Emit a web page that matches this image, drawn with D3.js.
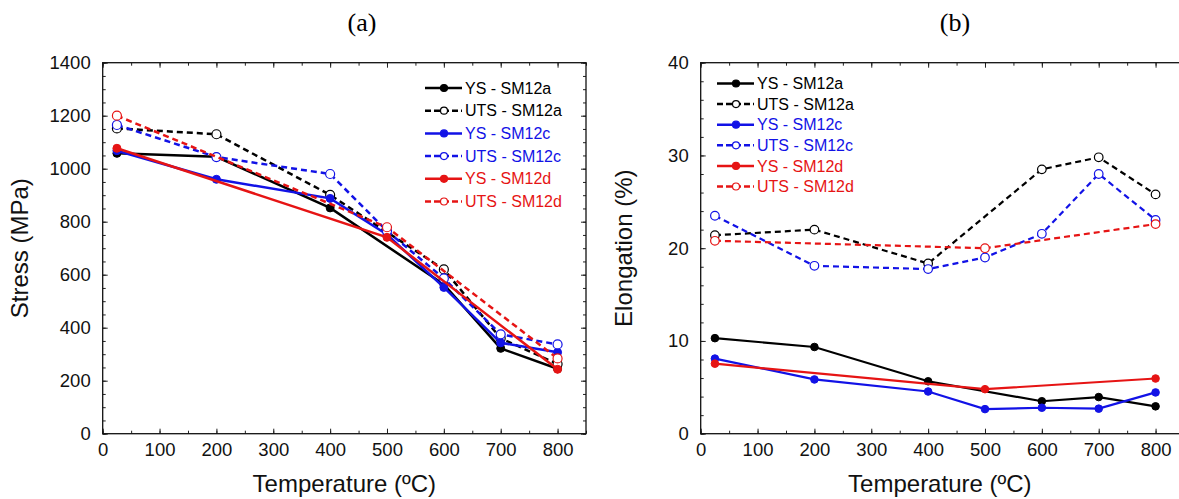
<!DOCTYPE html>
<html>
<head>
<meta charset="utf-8">
<script src="https://cdn.jsdelivr.net/npm/d3@7"></script>
<style>
  body { margin: 0; background: #fff; }
  text { font-family: "Liberation Sans", Arial, sans-serif; }
</style>
</head>
<body>
<svg id="chart" width="1179" height="499"></svg>
<script>
// test temperatures (ºC) for each alloy
const tempsA = [25, 200, 400, 600, 700, 800];
const tempsC = [25, 200, 400, 500, 600, 700, 800];
const tempsD = [25, 500, 800];

// (a) stress, MPa
const ysStressA  = [1058, 1045, 852, 563, 322, 245];
const utsStressA = [1152, 1130, 901, 620, 360, 263];
const ysStressC  = [1068, 960, 888, 752, 552, 343, 307];
const utsStressC = [1165, 1044, 980, 765, 586, 375, 337];
const ysStressD  = [1077, 741, 243];
const utsStressD = [1200, 779, 284];

// (b) elongation, %
const ysElongA  = [10.3, 9.35, 5.65, 3.5, 3.95, 2.95];
const utsElongA = [21.4, 22.0, 18.35, 28.5, 29.8, 25.8];
const ysElongC  = [8.1, 5.85, 4.55, 2.65, 2.8, 2.7, 4.45];
const utsElongC = [23.5, 18.1, 17.75, 19.0, 21.55, 28.0, 23.05];
const ysElongD  = [7.55, 4.8, 5.95];
const utsElongD = [20.8, 20.0, 22.6];

const seriesNames = ["YS - SM12a", "UTS - SM12a", "YS - SM12c", "UTS - SM12c", "YS - SM12d", "UTS - SM12d"];
const xLabels = [0, 100, 200, 300, 400, 500, 600, 700, 800];
const stressLabels = [0, 200, 400, 600, 800, 1000, 1200, 1400];
const elongLabels = [0, 10, 20, 30, 40];

const colors = ["#000000", "#000000", "#1212e6", "#1212e6", "#e61414", "#e61414"];
const dashed = [false, true, false, true, false, true];

const svg = d3.select("#chart");
svg.append("rect").attr("width", 1179).attr("height", 499).attr("fill", "#fff");

// build series objects from the arrays
const mk = (temps, vals) => temps.map((t, i) => ({t: t, v: vals[i]}));
const stressData = [
  mk(tempsA, ysStressA), mk(tempsA, utsStressA),
  mk(tempsC, ysStressC), mk(tempsC, utsStressC),
  mk(tempsD, ysStressD), mk(tempsD, utsStressD)
];
const elongData = [
  mk(tempsA, ysElongA), mk(tempsA, utsElongA),
  mk(tempsC, ysElongC), mk(tempsC, utsElongC),
  mk(tempsD, ysElongD), mk(tempsD, utsElongD)
];

const tickAxis = (g, axis, vals, size, pad, labels) => {
  g.call(axis.tickValues(vals).tickSize(-size).tickPadding(pad)
      .tickFormat(labels ? d3.format("d") : ""));
  g.select(".domain").remove();
  g.selectAll("line").attr("stroke", "#222").attr("stroke-width", 1);
  g.selectAll("text").attr("font-size", 18.5).attr("fill", "#111");
}

const drawPanel = cfg => {
  const x = d3.scaleLinear().domain([0, 850]).range([cfg.left, cfg.right]);
  const y = d3.scaleLinear().domain([0, cfg.yMax]).range([cfg.bottom, cfg.top]);
  const g = svg.append("g");

  const xMinor = d3.range(0, 851, 50);
  const yMinor = d3.range(0, cfg.yMax + 0.001, cfg.yStep);

  // bottom / top
  tickAxis(g.append("g").attr("transform", "translate(0," + cfg.bottom + ")"), d3.axisBottom(x), xMinor, 3, 9, false);
  tickAxis(g.append("g").attr("transform", "translate(0," + cfg.bottom + ")"), d3.axisBottom(x), xLabels, 5, 9, true);
  tickAxis(g.append("g").attr("transform", "translate(0," + cfg.top + ")"), d3.axisTop(x), xMinor, 3, 9, false);
  tickAxis(g.append("g").attr("transform", "translate(0," + cfg.top + ")"), d3.axisTop(x), xLabels, 5, 9, false);
  // left / right
  tickAxis(g.append("g").attr("transform", "translate(" + cfg.left + ",0)"), d3.axisLeft(y), yMinor, 3, 12, false);
  tickAxis(g.append("g").attr("transform", "translate(" + cfg.left + ",0)"), d3.axisLeft(y), cfg.yLabels, 5, 12, true);
  tickAxis(g.append("g").attr("transform", "translate(" + cfg.right + ",0)"), d3.axisRight(y), yMinor, 3, 12, false);
  tickAxis(g.append("g").attr("transform", "translate(" + cfg.right + ",0)"), d3.axisRight(y), cfg.yLabels, 5, 12, false);

  g.append("rect")
    .attr("x", cfg.left).attr("y", cfg.top)
    .attr("width", cfg.right - cfg.left).attr("height", cfg.bottom - cfg.top)
    .attr("fill", "none").attr("stroke", "#111").attr("stroke-width", 1.3);

  const line = d3.line().x(d => x(d.t)).y(d => y(d.v));

  // black first, then blue, then red on top
  cfg.data.forEach((s, i) => {
    g.append("path").datum(s)
      .attr("d", line)
      .attr("fill", "none")
      .attr("stroke", colors[i])
      .attr("stroke-width", cfg.lw)
      .attr("stroke-dasharray", dashed[i] ? "6,4" : null);
    g.selectAll(".pt" + i).data(s).enter().append("circle")
      .attr("cx", d => x(d.t)).attr("cy", d => y(d.v))
      .attr("r", dashed[i] ? cfg.r + 0.5 : cfg.r)
      .attr("fill", dashed[i] ? "#fff" : colors[i])
      .attr("stroke", colors[i])
      .attr("stroke-width", dashed[i] ? 1.2 : 1);
  });

  // legend
  seriesNames.forEach((name, i) => {
    const ly = cfg.legY + i * cfg.legDy;
    g.append("line")
      .attr("x1", cfg.legX).attr("x2", cfg.legX + 37)
      .attr("y1", ly).attr("y2", ly)
      .attr("stroke", colors[i]).attr("stroke-width", 2.5)
      .attr("stroke-dasharray", dashed[i] ? "6,3" : null);
    g.append("circle")
      .attr("cx", cfg.legX + 19).attr("cy", ly).attr("r", 3.5)
      .attr("fill", dashed[i] ? "#fff" : colors[i])
      .attr("stroke", colors[i]).attr("stroke-width", 1.2);
    g.append("text")
      .attr("x", cfg.legX + 40).attr("y", ly).attr("dy", "0.35em")
      .attr("font-size", 16).attr("fill", colors[i])
      .text(name);
  });

  // axis titles
  g.append("text")
    .attr("x", (cfg.left + Math.min(cfg.right, 1179)) / 2 + cfg.xLabShift).attr("y", 492)
    .attr("text-anchor", "middle").attr("font-size", 24).attr("fill", "#111")
    .text("Temperature (ºC)");
  g.append("text")
    .attr("transform", "translate(" + cfg.yLabX + "," + (cfg.top + cfg.bottom) / 2 + ") rotate(-90)")
    .attr("text-anchor", "middle").attr("font-size", 24).attr("fill", "#111")
    .text(cfg.yLabel);
  g.append("text")
    .attr("x", cfg.titleX).attr("y", 31)
    .attr("text-anchor", "middle").attr("font-size", 26)
    .style("font-family", "'Liberation Serif', 'Times New Roman', serif")
    .text(cfg.title);
}

drawPanel({
  left: 102.7, right: 586, top: 62.7, bottom: 433.7,
  yMax: 1400, yStep: 50, yLabels: stressLabels,
  data: stressData, lw: 2.5, r: 4,
  legX: 425, legY: 88, legDy: 22.7,
  yLabel: "Stress (MPa)", yLabX: 28, xLabShift: 0,
  title: "(a)", titleX: 362
});

drawPanel({
  left: 700.7, right: 1184, top: 62.7, bottom: 433.7,
  yMax: 40, yStep: 2, yLabels: elongLabels,
  data: elongData, lw: 2.2, r: 3.8,
  legX: 717, legY: 83.5, legDy: 20.6,
  yLabel: "Elongation (%)", yLabX: 632, xLabShift: 0,
  title: "(b)", titleX: 955
});
</script>
</body>
</html>
